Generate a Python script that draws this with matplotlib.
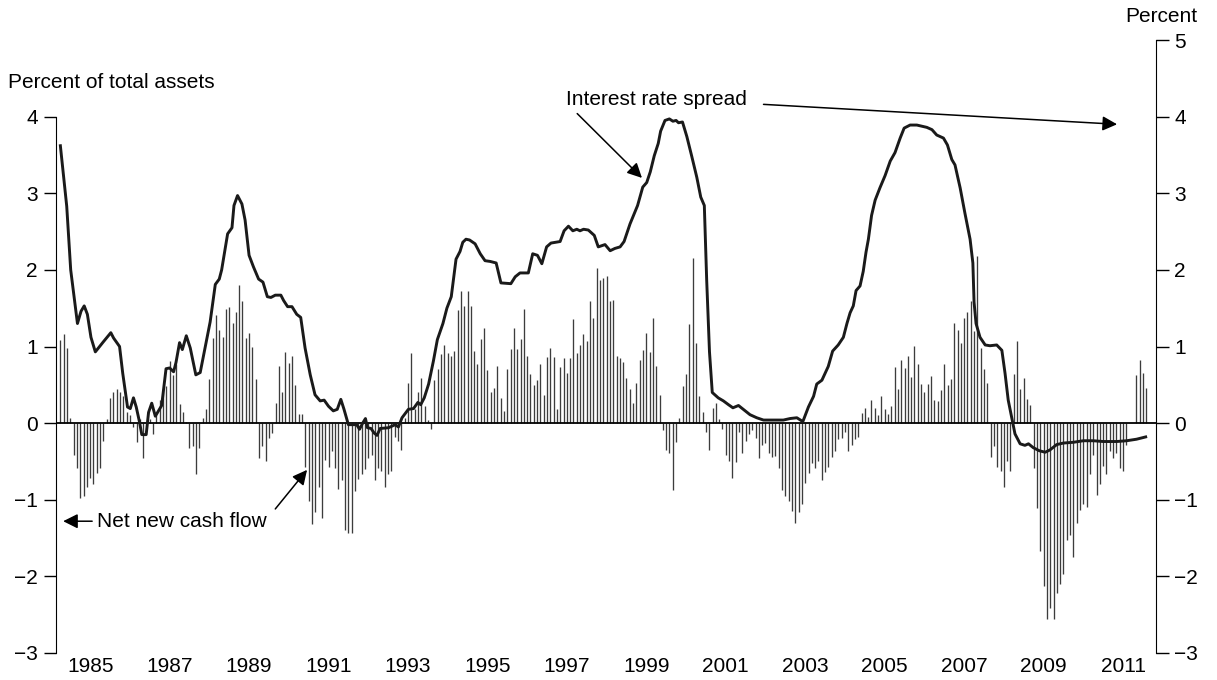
import numpy as np
import matplotlib
matplotlib.use('Agg')
import matplotlib.pyplot as plt

plt.rcParams['font.family'] = ['Liberation Sans', 'DejaVu Sans']

# net new cash flow, percent of total assets, monthly from Apr 1984 to Aug 2011
flow_1980s = [
    1.09, 1.16, 0.98, 0.07, -0.42, -0.58, -0.98, -0.95, -0.84,                 # 1984 (Apr-Dec)
    -0.72, -0.79, -0.65, -0.58, -0.23, 0.05, 0.33, 0.40, 0.44, 0.40, 0.35, 0.15,  # 1985
    0.10, -0.05, -0.25, 0.05, -0.45, 0.02, 0.05, -0.14, 0.10, 0.30, 0.44, 0.49,   # 1986
    0.81, 0.63, 0.77, 0.25, 0.14, 0.02, -0.33, -0.30, -0.67, -0.32, 0.07, 0.18,   # 1987
    0.57, 1.11, 1.41, 1.22, 1.12, 1.49, 1.52, 1.31, 1.45, 1.80, 1.60, 1.11,       # 1988
    1.18, 1.00, 0.57, -0.46, -0.30, -0.50, -0.19, -0.13, 0.26, 0.74, 0.40, 0.93,  # 1989
]
flow_1990s = [
    0.78, 0.87, 0.50, 0.12, 0.12, -0.57, -1.01, -1.32, -1.16, -0.84, -1.24, -0.48,     # 1990
    -0.57, -0.37, -0.58, -0.86, -0.74, -1.39, -1.44, -1.44, -0.88, -0.73, -0.66, -0.60, # 1991
    -0.46, -0.41, -0.74, -0.58, -0.63, -0.83, -0.67, -0.63, -0.18, -0.23, -0.35, 0.07,  # 1992
    0.52, 0.91, 0.19, 0.41, 0.59, 0.23, 0.04, -0.08, 0.56, 0.71, 0.90, 1.02,           # 1993
    0.91, 0.87, 0.94, 1.47, 1.73, 1.53, 1.73, 1.53, 0.94, 0.77, 1.10, 1.24,            # 1994
    0.69, 0.41, 0.46, 0.74, 0.33, 0.16, 0.71, 0.97, 1.24, 0.97, 1.10, 1.49,            # 1995
    0.87, 0.64, 0.50, 0.56, 0.77, 0.37, 0.86, 0.98, 0.86, 0.19, 0.73, 0.85,            # 1996
    0.65, 0.85, 1.36, 0.92, 1.02, 1.16, 1.07, 1.59, 1.37, 2.02, 1.87, 1.90,            # 1997
    1.92, 1.59, 1.61, 0.87, 0.85, 0.80, 0.59, 0.45, 0.26, 0.53, 0.82, 0.96,            # 1998
    1.17, 0.93, 1.37, 0.74, 0.37, -0.09, -0.35, -0.39, -0.87, -0.24, 0.07, 0.49,       # 1999
]
flow_2000s = [
    0.64, 1.29, 2.15, 1.04, 0.36, 0.15, -0.12, -0.35, 0.20, 0.26, 0.05, -0.08,         # 2000
    -0.42, -0.50, -0.72, -0.51, -0.12, -0.39, -0.23, -0.14, -0.09, -0.20, -0.46, -0.28, # 2001
    -0.26, -0.39, -0.44, -0.43, -0.58, -0.87, -0.95, -1.02, -1.15, -1.30, -1.16, -1.05, # 2002
    -0.78, -0.65, -0.52, -0.58, -0.49, -0.74, -0.64, -0.57, -0.44, -0.37, -0.21, -0.19, # 2003
    -0.12, -0.36, -0.28, -0.21, -0.18, 0.13, 0.20, 0.08, 0.30, 0.20, 0.10, 0.36,       # 2004
    0.18, 0.12, 0.22, 0.73, 0.45, 0.83, 0.72, 0.87, 0.60, 1.01, 0.77, 0.51,            # 2005
    0.40, 0.51, 0.61, 0.30, 0.29, 0.43, 0.77, 0.50, 0.58, 1.31, 1.21, 1.05,            # 2006
    1.37, 1.45, 1.60, 1.20, 2.18, 0.98, 0.70, 0.53, -0.44, -0.30, -0.57, -0.63,        # 2007
    -0.83, -0.50, -0.63, 0.64, 1.07, 0.45, 0.59, 0.32, 0.24, -0.59, -1.11, -1.67,      # 2008
    -2.13, -2.55, -2.41, -2.55, -2.22, -2.10, -1.97, -1.52, -1.46, -1.75, -1.30, -1.13, # 2009
]
flow_2010s = [
    -1.05, -1.10, -0.67, -0.41, -0.94, -0.80, -0.56, -0.66, -0.36, -0.45, -0.39, -0.58, # 2010
    -0.63, -0.28, 0.0, 0.0, 0.63, 0.83, 0.66, 0.46,                                     # 2011 (Jan-Aug)
]

# interest rate spread, percent
spread_year = [1984.25, 1984.41, 1984.51, 1984.68, 1984.77, 1984.85, 1984.93, 1985.02, 1985.13,
               1985.33, 1985.52, 1985.59, 1985.67, 1985.74, 1985.82, 1985.94, 1986.01, 1986.09,
               1986.16, 1986.24, 1986.30, 1986.41, 1986.47, 1986.55, 1986.64, 1986.80, 1986.91,
               1987.00, 1987.10, 1987.16, 1987.25, 1987.32, 1987.42, 1987.52, 1987.66, 1987.77,
               1987.89, 1988.02, 1988.15, 1988.25, 1988.31, 1988.46, 1988.57, 1988.62, 1988.71,
               1988.82, 1988.90, 1989.00, 1989.11, 1989.24, 1989.35, 1989.46, 1989.55, 1989.66,
               1989.80, 1989.87, 1989.97, 1990.08, 1990.20, 1990.30, 1990.41, 1990.54, 1990.66,
               1990.79, 1990.89, 1991.00, 1991.12, 1991.22, 1991.31, 1991.39, 1991.50, 1991.71,
               1991.78, 1991.86, 1991.93, 1991.98, 1992.07, 1992.15, 1992.22, 1992.30, 1992.51,
               1992.68, 1992.76, 1992.85, 1993.01, 1993.14, 1993.25, 1993.32, 1993.41, 1993.52,
               1993.64, 1993.74, 1993.88, 1993.98, 1994.09, 1994.21, 1994.31, 1994.38, 1994.46,
               1994.55, 1994.69, 1994.82, 1994.94, 1995.07, 1995.22, 1995.34, 1995.59, 1995.70,
               1995.82, 1996.03, 1996.14, 1996.26, 1996.37, 1996.49, 1996.60, 1996.83, 1996.93,
               1997.04, 1997.15, 1997.25, 1997.33, 1997.42, 1997.54, 1997.69, 1997.79, 1997.96,
               1998.09, 1998.21, 1998.34, 1998.44, 1998.59, 1998.78, 1998.91, 1999.01, 1999.10,
               1999.20, 1999.30, 1999.36, 1999.47, 1999.58, 1999.67, 1999.75, 1999.81, 1999.91,
               2000.02, 2000.14, 2000.27, 2000.37, 2000.46, 2000.52, 2000.59, 2000.66, 2000.81,
               2000.94, 2001.07, 2001.18, 2001.32, 2001.44, 2001.61, 2001.78, 2001.95, 2002.45,
               2002.62, 2002.79, 2002.94, 2003.08, 2003.21, 2003.29, 2003.42, 2003.58, 2003.69,
               2003.83, 2003.96, 2004.05, 2004.13, 2004.21, 2004.28, 2004.38, 2004.46, 2004.53,
               2004.59, 2004.67, 2004.76, 2004.88, 2005.01, 2005.14, 2005.26, 2005.39, 2005.49,
               2005.64, 2005.81, 2006.06, 2006.19, 2006.31, 2006.48, 2006.58, 2006.69, 2006.77,
               2006.90, 2007.02, 2007.15, 2007.22, 2007.25, 2007.30, 2007.40, 2007.53, 2007.65,
               2007.82, 2007.95, 2008.03, 2008.11, 2008.20, 2008.28, 2008.41, 2008.53, 2008.62,
               2008.74, 2008.89, 2009.04, 2009.16, 2009.33, 2009.50, 2009.75, 2010.00, 2010.25,
               2010.50, 2010.84, 2011.09, 2011.34, 2011.57]
spread_val = [3.62, 2.83, 2.00, 1.30, 1.46, 1.53, 1.42, 1.12, 0.93,
              1.06, 1.18, 1.11, 1.05, 1.00, 0.65, 0.21, 0.19, 0.33,
              0.21, 0.02, -0.15, -0.15, 0.14, 0.26, 0.09, 0.23, 0.71,
              0.72, 0.67, 0.79, 1.05, 0.96, 1.14, 0.98, 0.63, 0.66,
              0.98, 1.32, 1.81, 1.88, 2.00, 2.47, 2.55, 2.84, 2.97,
              2.86, 2.65, 2.19, 2.04, 1.88, 1.84, 1.65, 1.64, 1.67,
              1.67, 1.60, 1.52, 1.52, 1.42, 1.38, 0.98, 0.63, 0.37,
              0.29, 0.30, 0.22, 0.16, 0.18, 0.31, 0.18, -0.02, -0.02,
              -0.08, 0.00, 0.06, -0.06, -0.07, -0.13, -0.16, -0.07, -0.06,
              -0.02, -0.05, 0.07, 0.18, 0.19, 0.27, 0.24, 0.33, 0.51,
              0.81, 1.09, 1.30, 1.50, 1.65, 2.14, 2.24, 2.36, 2.40,
              2.39, 2.34, 2.21, 2.12, 2.11, 2.09, 1.83, 1.82, 1.91,
              1.96, 1.96, 2.21, 2.19, 2.08, 2.30, 2.35, 2.37, 2.51,
              2.57, 2.51, 2.53, 2.51, 2.53, 2.52, 2.45, 2.30, 2.33,
              2.25, 2.28, 2.30, 2.37, 2.60, 2.84, 3.08, 3.14, 3.28,
              3.49, 3.65, 3.81, 3.95, 3.97, 3.94, 3.95, 3.92, 3.93,
              3.74, 3.49, 3.21, 2.95, 2.84, 1.86, 0.93, 0.40, 0.33,
              0.29, 0.24, 0.20, 0.23, 0.18, 0.11, 0.07, 0.04, 0.04,
              0.06, 0.07, 0.02, 0.21, 0.35, 0.51, 0.56, 0.74, 0.94,
              1.02, 1.12, 1.30, 1.44, 1.53, 1.73, 1.79, 1.98, 2.23,
              2.40, 2.71, 2.91, 3.07, 3.23, 3.42, 3.53, 3.72, 3.85,
              3.89, 3.89, 3.86, 3.83, 3.76, 3.72, 3.63, 3.44, 3.37,
              3.07, 2.74, 2.40, 2.09, 1.58, 1.30, 1.12, 1.02, 1.01,
              1.02, 0.95, 0.65, 0.30, 0.07, -0.14, -0.27, -0.29, -0.27,
              -0.32, -0.36, -0.38, -0.35, -0.28, -0.26, -0.25, -0.23, -0.23,
              -0.24, -0.24, -0.23, -0.21, -0.18]

year_ticks = list(range(1985, 2012, 2))
left_ticks = list(range(-3, 5))
right_ticks = list(range(-3, 6))

flow = flow_1980s + flow_1990s + flow_2000s + flow_2010s
x_flow = 1984 + 3 / 12.0 + np.arange(len(flow)) / 12.0

fig = plt.figure(figsize=(12.17, 6.80), dpi=100)
ax = fig.add_axes([56 / 1217, 27 / 680, 1100 / 1217, 613 / 680])
ax.set_xlim(1984.14, 2011.83)
ax.set_ylim(-3, 5)

ax.vlines(x_flow, 0, flow, color='#3c3c3c', linewidth=0.95)
ax.axhline(0, color='black', linewidth=1.3)
ax.plot(spread_year, spread_val, color='#1a1a1a', linewidth=2.1, solid_joinstyle='round')

for s in ['top', 'bottom', 'right']:
    ax.spines[s].set_visible(False)
ax.spines['left'].set_bounds(-3, 4)
ax.set_yticks(left_ticks)
ax.set_yticklabels([str(v).replace('-', '\u2212') for v in left_ticks])
ax.set_xticks(year_ticks)
ax.set_xticklabels([str(y) for y in year_ticks])
ax.tick_params(axis='x', length=0, labelsize=15, pad=3)
ax.tick_params(axis='y', direction='out', length=9, width=1, labelsize=15, pad=4)

ax2 = ax.twinx()
ax2.set_ylim(-3, 5)
for s in ['top', 'bottom', 'left']:
    ax2.spines[s].set_visible(False)
ax2.spines['right'].set_bounds(-3, 5)
ax2.set_yticks(right_ticks)
ax2.set_yticklabels([str(v).replace('-', '\u2212') for v in right_ticks])
ax2.tick_params(axis='y', direction='out', length=9, width=1, labelsize=15, pad=4)

fig.text(8 / 1217, 1 - 82 / 680, 'Percent of total assets', ha='left', va='center', fontsize=15)
fig.text(1161 / 1217, 1 - 16 / 680, 'Percent', ha='center', va='center', fontsize=15)

arrow = dict(arrowstyle='-|>', mutation_scale=22, color='black', lw=1.1, shrinkA=0, shrinkB=0)
ax.text(1996.98, 4.22, 'Interest rate spread', ha='left', va='center', fontsize=15)
ax.annotate('', xy=(1998.89, 3.20), xytext=(1997.26, 4.04), arrowprops=arrow)
ax.annotate('', xy=(2010.85, 3.90), xytext=(2001.95, 4.16), arrowprops=arrow)

ax.text(1985.18, -1.28, 'Net new cash flow', ha='left', va='center', fontsize=15)
ax.annotate('', xy=(1984.32, -1.28), xytext=(1985.05, -1.28), arrowprops=arrow)
ax.annotate('', xy=(1990.46, -0.61), xytext=(1989.66, -1.12), arrowprops=arrow)

fig.savefig('out.png', dpi=100)
